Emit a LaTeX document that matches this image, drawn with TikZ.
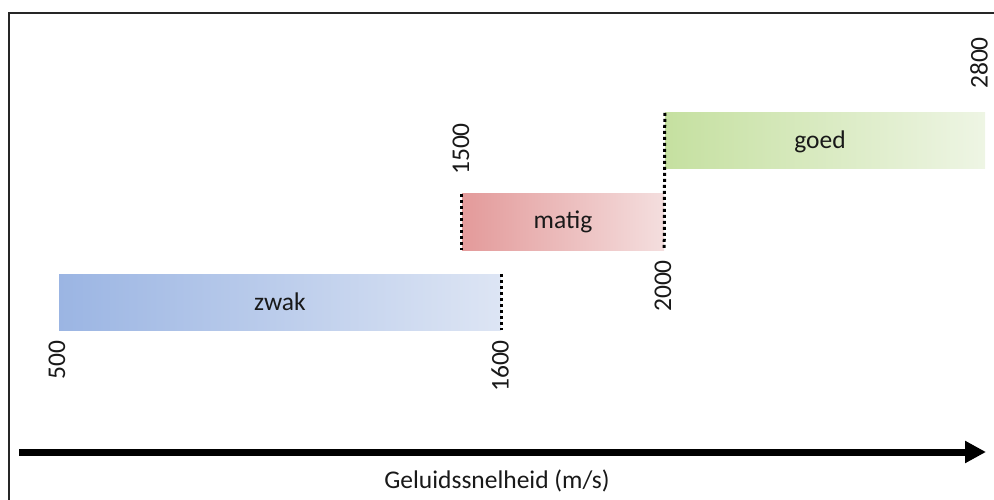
\documentclass[tikz,border=0pt]{standalone}
\usepackage{fontspec}
\setmainfont{Carlito}
\usetikzlibrary{arrows.meta}
\definecolor{bluel}{HTML}{9BB5E3}
\definecolor{bluer}{HTML}{DDE5F4}
\definecolor{redl}{HTML}{E39A9A}
\definecolor{redr}{HTML}{F4DEDE}
\definecolor{greenl}{HTML}{C5E0A0}
\definecolor{greenr}{HTML}{EEF5E4}
\tikzset{
  bar/.style={inner sep=0pt, minimum height=56pt, font=\fontsize{25.5}{30}\selectfont, text=black!90},
  dots/.style={line width=3pt, dash pattern=on 3pt off 3pt, black},
  num/.style={rotate=90, inner sep=0pt, font=\fontsize{25.5}{30}\selectfont, text=black!90},
  frameline/.style={line width=1.5pt, black!85},
}
\begin{document}
\begin{tikzpicture}[x=1pt,y=-1pt]
\useasboundingbox (0,0) rectangle (994,500);
\coordinate (fr) at (994,13);
\coordinate (fc) at (9,13);
\coordinate (fb) at (9,500);
\draw[frameline] (fr) -- (fc) -- (fb);
% bars
\node[bar, minimum width=442pt, left color=bluel, right color=bluer] (zwak) at (280,302) {zwak};
\node[bar, minimum width=202pt, left color=redl, right color=redr] (matig) at (563,222) {matig};
\node[bar, minimum width=320pt, left color=greenl, right color=greenr] (goed) at (825,141) {};
\node[inner sep=0pt, font=\fontsize{25.5}{30}\selectfont, text=black!90] (goedt) at (820,142) {goed};
% dotted limits
\draw[dots] (zwak.north east) -- (zwak.south east);
\draw[dots] (matig.north west) -- (matig.south west);
\draw[dots] (goed.north west) -- (matig.south east);
% numbers
\node[num] (n500) at (57,360) {500};
\node[num] (n1600) at (500,366) {1600};
\node[num] (n1500) at (461,149) {1500};
\node[num] (n2000) at (663,286) {2000};
\node[num] (n2800) at (979,63) {2800};
% axis
\coordinate (a0) at (19,452);
\coordinate (a1) at (986,452);
\draw[line width=7pt, -{Triangle[length=21pt,width=21pt]}] (a0) -- (a1);
\node[inner sep=0pt, font=\fontsize{25.5}{30}\selectfont, text=black!90] (axl) at (497,481) {Geluidssnelheid (m/s)};
\end{tikzpicture}
\end{document}
